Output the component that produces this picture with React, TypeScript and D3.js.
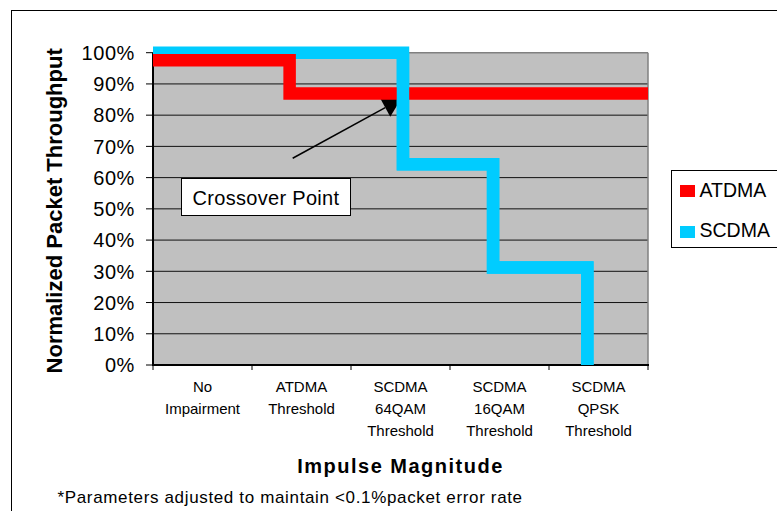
import React from "react";
import * as d3 from "d3";

const categories: string[][] = [
  ["No", "Impairment"],
  ["ATDMA", "Threshold"],
  ["SCDMA", "64QAM", "Threshold"],
  ["SCDMA", "16QAM", "Threshold"],
  ["SCDMA", "QPSK", "Threshold"],
];
const yTicks = [0, 10, 20, 30, 40, 50, 60, 70, 80, 90, 100];
const seriesNames = ["ATDMA", "SCDMA"];
const seriesColors = ["#ff0000", "#00ccff"];
// step-line data: x in category units (0..5), y in percent
const atdmaX = [0, 1.38, 1.38, 5];
const atdmaY = [97.6, 97.6, 86.9, 86.9];
const scdmaX = [0, 2.525, 2.525, 3.435, 3.435, 4.387, 4.387];
const scdmaY = [100, 100, 64.3, 64.3, 31.2, 31.2, 0];
// annotation (in data coords)
const arrowFrom = [1.411, 66.2];
const arrowTo = [2.505, 85.2];
const annotationText = "Crossover Point";
const yTitle = "Normalized Packet Throughput";
const xTitle = "Impulse Magnitude";
const footnote = "*Parameters adjusted to maintain <0.1%packet error rate";

const W = 777;
const H = 511;
const FONT = "'Liberation Sans', Arial, sans-serif";

export default function App() {
  const x = d3.scaleLinear().domain([0, 5]).range([153, 648]);
  const y = d3.scaleLinear().domain([0, 100]).range([365, 52.7]);
  const line = d3
    .line<[number, number]>()
    .x((d) => x(d[0]))
    .y((d) => y(d[1]));
  const atdma: [number, number][] = atdmaX.map((v, i) => [v, atdmaY[i]]);
  const scdma: [number, number][] = scdmaX.map((v, i) => [v, scdmaY[i]]);

  const [x0, x1] = x.range();
  const [y0, y1] = y.range();

  // arrow geometry
  const ax1 = x(arrowFrom[0]);
  const ay1 = y(arrowFrom[1]);
  const ax2 = x(arrowTo[0]);
  const ay2 = y(arrowTo[1]);
  const len = Math.hypot(ax2 - ax1, ay2 - ay1);
  const ux = (ax2 - ax1) / len;
  const uy = (ay2 - ay1) / len;
  const L = 18;
  const Wd = 10.5;
  const bx = ax2 - ux * L;
  const by = ay2 - uy * L;
  const head = [
    [ax2, ay2],
    [bx - uy * Wd, by + ux * Wd],
    [bx + uy * Wd, by - ux * Wd],
  ]
    .map((p) => p.join(","))
    .join(" ");

  const bandW = x(1) - x(0);

  return (
    <svg
      width={W}
      height={H}
      style={{ position: "absolute", left: 0, top: 0, background: "#fff" }}
      fontFamily={FONT}
    >
      <rect x={0} y={0} width={W} height={H} fill="#fff" />
      {/* outer chart frame */}
      <rect x={11.5} y={10.5} width={900} height={700} fill="none" stroke="#000" strokeWidth={1} />

      {/* plot area */}
      <rect x={x0} y={y1} width={x1 - x0} height={y0 - y1} fill="#c0c0c0" />
      {yTicks
        .filter((t) => t > 0 && t < 100)
        .map((t) => (
          <line key={t} x1={x0} x2={x1} y1={y(t)} y2={y(t)} stroke="#111" strokeWidth={1} />
        ))}
      <line x1={x0} x2={x1} y1={y1} y2={y1} stroke="#808080" strokeWidth={1.5} />
      <line x1={x1} x2={x1} y1={y1} y2={y0} stroke="#808080" strokeWidth={1.5} />
      <line x1={x0} x2={x0} y1={y1} y2={y0 + 1} stroke="#000" strokeWidth={2} />
      <line x1={x0 - 1} x2={x1 + 1} y1={y0} y2={y0} stroke="#000" strokeWidth={2} />

      {/* y ticks and labels */}
      {yTicks.map((t) => (
        <g key={t}>
          <line x1={x0 - 7} x2={x0} y1={y(t)} y2={y(t)} stroke="#000" strokeWidth={1} />
          <text x={135} y={y(t) + 7.3} textAnchor="end" fontSize={20} letterSpacing={0.6} fill="#000">
            {t}%
          </text>
        </g>
      ))}

      {/* x ticks and labels */}
      {d3.range(categories.length + 1).map((i) => (
        <line key={i} x1={x(i)} x2={x(i)} y1={y0} y2={y0 + 5} stroke="#000" strokeWidth={1} />
      ))}
      {categories.map((lines, i) => (
        <text key={i} textAnchor="middle" fontSize={15} fill="#000">
          {lines.map((s, j) => (
            <tspan key={j} x={x(i) + bandW / 2} y={392.3 + j * 21.9}>
              {s}
            </tspan>
          ))}
        </text>
      ))}

      {/* arrow annotation (under the series) */}
      <line x1={ax1} y1={ay1} x2={bx} y2={by} stroke="#000" strokeWidth={1.5} />
      <polygon points={head} fill="#000" />

      {/* series */}
      <path d={line(scdma) || ""} fill="none" stroke={seriesColors[1]} strokeWidth={12.5} strokeLinejoin="miter" />
      <path d={line(atdma) || ""} fill="none" stroke={seriesColors[0]} strokeWidth={12.5} strokeLinejoin="miter" />
      <path d={line(scdma.slice(1)) || ""} fill="none" stroke={seriesColors[1]} strokeWidth={12.5} strokeLinejoin="miter" />

      {/* text box */}
      <rect x={181.5} y={178.5} width={169} height={37} fill="#fff" stroke="#000" strokeWidth={1} />
      <text x={266} y={204.5} textAnchor="middle" fontSize={20} letterSpacing={0.3} fill="#000">
        {annotationText}
      </text>

      {/* axis titles */}
      <text
        transform={`translate(61.7,${(y0 + y1) / 2 + 2}) rotate(-90)`}
        textAnchor="middle"
        fontSize={22}
        fontWeight="bold"
        fill="#000"
      >
        {yTitle}
      </text>
      <text x={(x0 + x1) / 2} y={473.3} textAnchor="middle" fontSize={20} fontWeight="bold" letterSpacing={1.5} fill="#000">
        {xTitle}
      </text>
      <text x={57.5} y={503.3} fontSize={17} letterSpacing={0.65} fill="#000">
        {footnote}
      </text>

      {/* legend */}
      <rect x={671.5} y={170.5} width={200} height={77} fill="#fff" stroke="#000" strokeWidth={1} />
      {seriesNames.map((n, i) => (
        <g key={n}>
          <rect x={680} y={185 + i * 41} width={15} height={12} fill={seriesColors[i]} />
          <text x={699.5} y={196.7 + i * 40} fontSize={19.5} fill="#000">
            {n}
          </text>
        </g>
      ))}
    </svg>
  );
}
